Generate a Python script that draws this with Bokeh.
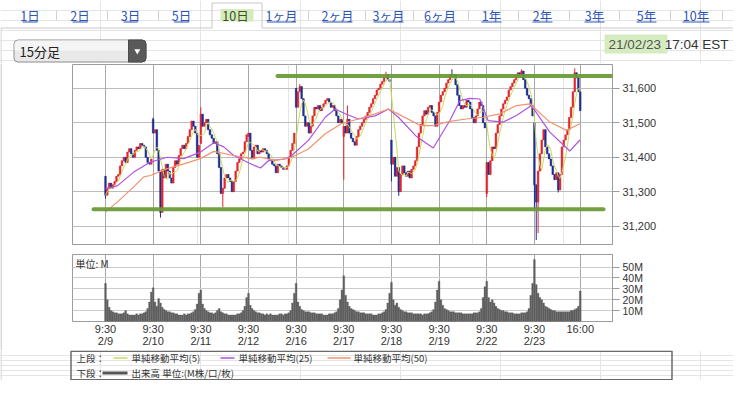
import pandas as pd
from bokeh.plotting import figure
from bokeh.layouts import column, row
from bokeh.models import (Range1d, FixedTicker, Grid, NumeralTickFormatter,
                          PrintfTickFormatter, Label, Arrow, ColumnDataSource)
from bokeh.core.properties import value
from bokeh.embed import file_html
from bokeh.resources import INLINE

# ---------------- data ----------------
days = ["2/9", "2/10", "2/11", "2/12", "2/16", "2/17", "2/18", "2/19", "2/22", "2/23"]
tick_labels = ["9:30\n2/9", "9:30\n2/10", "9:30\n2/11", "9:30\n2/12", "9:30\n2/16",
               "9:30\n2/17", "9:30\n2/18", "9:30\n2/19", "9:30\n2/22", "9:30\n2/23", "16:00"]
bars_per_day = 26

day_open = [31345, 31510, 31440, 31460, 31600, 31460, 31450, 31530, 31295, 31500]

close_0209 = [31290, 31310, 31325, 31310, 31320, 31330, 31345, 31350, 31375, 31390, 31400, 31385, 31415,
              31425, 31410, 31400, 31420, 31430, 31425, 31440, 31435, 31430, 31400, 31385, 31380, 31395]
close_0210 = [31470, 31480, 31420, 31360, 31240, 31365, 31340, 31380, 31360, 31340, 31325, 31370, 31390,
              31380, 31405, 31425, 31435, 31425, 31440, 31460, 31480, 31505, 31490, 31470, 31400, 31435]
close_0211 = [31525, 31490, 31500, 31510, 31480, 31465, 31455, 31440, 31445, 31410, 31370, 31295, 31310,
              31340, 31350, 31340, 31330, 31300, 31330, 31360, 31385, 31395, 31410, 31415, 31445, 31465]
close_0212 = [31470, 31420, 31395, 31430, 31435, 31410, 31420, 31415, 31425, 31420, 31410, 31395, 31390,
              31380, 31375, 31355, 31380, 31375, 31370, 31365, 31365, 31375, 31400, 31420, 31440, 31470]
close_0216 = [31545, 31590, 31605, 31570, 31520, 31490, 31500, 31470, 31490, 31520, 31545, 31540, 31550,
              31535, 31545, 31555, 31565, 31570, 31560, 31545, 31550, 31535, 31520, 31500, 31510, 31500]
close_0217 = [31490, 31470, 31510, 31470, 31455, 31445, 31435, 31460, 31480, 31490, 31500, 31510, 31520,
              31530, 31545, 31555, 31570, 31580, 31595, 31600, 31612, 31620, 31632, 31640, 31625, 31620]
close_0218 = [31380, 31400, 31345, 31370, 31300, 31350, 31375, 31355, 31345, 31360, 31340, 31365, 31375,
              31390, 31430, 31470, 31495, 31520, 31535, 31525, 31545, 31550, 31530, 31520, 31490, 31530]
close_0219 = [31560, 31580, 31590, 31600, 31615, 31625, 31640, 31635, 31640, 31610, 31580, 31550, 31540,
              31550, 31545, 31565, 31560, 31540, 31515, 31500, 31520, 31540, 31560, 31550, 31500, 31485]
close_0222 = [31385, 31350, 31390, 31430, 31425, 31470, 31495, 31520, 31540, 31555, 31565, 31575, 31595,
              31605, 31615, 31625, 31635, 31645, 31640, 31650, 31625, 31600, 31580, 31570, 31550, 31520]
close_0223 = [31320, 31270, 31360, 31410, 31450, 31480, 31430, 31410, 31395, 31375, 31350, 31335, 31355,
              31305, 31350, 31430, 31450, 31465, 31480, 31515, 31545, 31590, 31645, 31630, 31590, 31535]

# long wicks (bar number, extreme price)
wick_bar = [0, 26, 30, 52, 64, 106, 130, 132, 153, 156, 160, 189, 208, 227, 234, 235, 236, 247, 256]
wick_price = [31280, 31515, 31225, 31545, 31255, 31612, 31335, 31550, 31648, 31330, 31288, 31655,
              31285, 31655, 31250, 31160, 31180, 31298, 31658]

# volume, millions
vol_0209 = [35, 20, 13, 10, 9, 8, 8, 7, 7, 7, 8, 10, 7, 6, 6, 6, 6, 7, 6, 7, 7, 8, 9, 12, 18, 27]
vol_0210 = [31, 18, 14, 21, 17, 13, 11, 10, 9, 9, 8, 8, 7, 7, 6, 6, 6, 7, 6, 7, 7, 8, 9, 11, 16, 26]
vol_0211 = [29, 16, 12, 10, 9, 8, 8, 7, 8, 10, 12, 9, 8, 7, 7, 6, 6, 6, 6, 6, 7, 7, 8, 10, 14, 22]
vol_0212 = [26, 15, 12, 10, 9, 8, 8, 7, 7, 6, 7, 6, 7, 6, 6, 6, 6, 7, 7, 6, 7, 7, 8, 10, 17, 26]
vol_0216 = [35, 18, 14, 11, 10, 9, 9, 9, 8, 8, 8, 7, 7, 7, 7, 6, 6, 6, 7, 7, 7, 8, 9, 12, 20, 29]
vol_0217 = [42, 24, 18, 14, 12, 11, 10, 9, 9, 8, 8, 8, 7, 7, 7, 7, 6, 6, 6, 7, 7, 8, 9, 11, 17, 26]
vol_0218 = [36, 20, 15, 17, 13, 11, 10, 9, 9, 8, 8, 8, 7, 7, 7, 7, 7, 6, 7, 7, 7, 8, 9, 11, 18, 29]
vol_0219 = [37, 20, 15, 12, 11, 10, 9, 9, 9, 8, 8, 8, 8, 7, 7, 7, 7, 7, 7, 8, 8, 8, 9, 12, 22, 32]
vol_0222 = [37, 22, 18, 20, 17, 14, 12, 11, 10, 10, 9, 9, 8, 8, 8, 7, 7, 7, 7, 8, 8, 8, 9, 12, 24, 35]
vol_0223 = [57, 34, 26, 22, 20, 17, 14, 13, 12, 11, 10, 10, 9, 9, 9, 9, 9, 9, 9, 9, 10, 10, 11, 12, 14, 28]

# moving averages (bar number, value)
sma25_bar = [0, 6.4, 15.4, 24.5, 33.7, 42.7, 51.8, 59.1, 64.5, 70, 79.1, 84.6, 88.9, 98, 101.6, 110.7,
             119.9, 125.3, 130.8, 138, 147.1, 154.4, 159.8, 169.7, 178.8, 187.8, 193.3, 198.7, 204.2,
             208.8, 217, 224.2, 232.4, 242.4, 253.3, 258.8]
sma25_val = [31309, 31317, 31357, 31386, 31400, 31396, 31415, 31442, 31430, 31405, 31381, 31369, 31390,
             31395, 31405, 31449, 31516, 31540, 31526, 31511, 31520, 31540, 31516, 31460, 31427, 31506,
             31564, 31571, 31569, 31506, 31502, 31521, 31550, 31473, 31418, 31450]
sma50_bar = [0, 6.4, 15.4, 20.9, 24.5, 33.7, 42.7, 51.8, 59.1, 70, 79.1, 84.6, 92.6, 101.6, 110.7, 119.9,
             128.9, 138, 147.1, 154.4, 161.7, 171.8, 178.8, 187.8, 196.9, 206, 215.1, 224.2, 231.5,
             242.4, 251.5, 258.8]
sma50_val = [31241, 31270, 31314, 31343, 31347, 31367, 31381, 31396, 31417, 31405, 31396, 31400, 31390,
             31400, 31424, 31468, 31498, 31511, 31526, 31540, 31520, 31492, 31492, 31504, 31511, 31516,
             31526, 31550, 31555, 31502, 31478, 31497]

# hand drawn green level lines (price, from bar, to bar)
level_price = [31636, 31249]
level_from = [93.8, -6.5]
level_to = [286.4, 271.7]

price_ticks = [31200, 31300, 31400, 31500, 31600]
vol_ticks = [10, 20, 30, 40, 50]

tab_labels = ["1日", "2日", "3日", "5日", "10日", "1ヶ月", "2ヶ月", "3ヶ月", "6ヶ月",
              "1年", "2年", "3年", "5年", "10年"]
selected_tab = "10日"
interval_label = "15分足"
date_label = "21/02/23"
time_label = "17:04 EST"
legend_upper = "上段："
legend_lower = "下段："
legend_ma = ["単純移動平均(5)", "単純移動平均(25)", "単純移動平均(50)"]
legend_vol = "出来高 単位:(M株/口/枚)"
unit_label = "単位: M"

# ---------------- styles ----------------
UP, DOWN = "#e3262d", "#1f2f8f"
MA_COLORS = ["#c8da5a", "#b152e0", "#f2936f"]
GREEN = "#6c9b38"
BORDER = "#c8c8c8"
LATIN = "Liberation Sans"
CJK = "Noto Sans CJK JP"

# ---------------- build series ----------------
close_days = [close_0209, close_0210, close_0211, close_0212, close_0216,
              close_0217, close_0218, close_0219, close_0222, close_0223]
vol_days = [vol_0209, vol_0210, vol_0211, vol_0212, vol_0216,
            vol_0217, vol_0218, vol_0219, vol_0222, vol_0223]
idx, opens, closes, vols = [], [], [], []
for d, (cl, vo) in enumerate(zip(close_days, vol_days)):
    prev = day_open[d]
    for k, c in enumerate(cl):
        idx.append(d * bars_per_day + k)
        opens.append(prev)
        closes.append(c)
        vols.append(vo[k])
        prev = c
tops = [max(o, c) for o, c in zip(opens, closes)]
bots = [min(o, c) for o, c in zip(opens, closes)]
highs, lows = list(tops), list(bots)
for b, pr in zip(wick_bar, wick_price):
    highs[b] = max(highs[b], pr)
    lows[b] = min(lows[b], pr)
cols = [UP if c >= o else DOWN for o, c in zip(opens, closes)]
sma5 = pd.Series(closes).rolling(5, min_periods=1).mean().tolist()
src = ColumnDataSource(dict(x=idx, top=tops, bot=bots, h=highs, l=lows, col=cols, v=vols, sma5=sma5))

tick_pos = [d * bars_per_day for d in range(len(days))] + [len(days) * bars_per_day - 1]

# ---------------- layout geometry (page pixels) ----------------
W, H = 733, 380
STRIP = 2
FL, FR = 72, 612            # plot frame left/right
HEAD_H = 63
P_BOT_BORDER = 7
V_TOP_BORDER, V_H, V_BOT_BORDER = 3, 67, 29
P_H = 180
LEG_TOP = HEAD_H + 1 + P_H + P_BOT_BORDER + V_TOP_BORDER + V_H + V_BOT_BORDER
x_rng = Range1d(-18.0, 276.6)


def bare(width, height, xr, yr):
    f = figure(width=width, height=height, x_range=xr, y_range=yr, min_border=0,
               x_axis_location=None, y_axis_location=None, toolbar_location=None, output_backend="svg")
    f.outline_line_color = None
    f.background_fill_color = "white"
    f.border_fill_color = "white"
    return f


# ---------------- header ----------------
hd = bare(W, HEAD_H, Range1d(0, W), Range1d(HEAD_H, 0))
tab_x = [29.5, 79.5, 130, 181, 235, 281, 337, 388, 439.5, 491, 542, 594, 646, 695.5]
tab_w = [15, 15, 14, 15, 26, 29, 30, 30, 30, 20, 20, 20, 20, 27]
sep_x = [56, 107, 158, 308, 365, 413, 468, 518, 569, 619, 670, 722]
hd.segment(x0=sep_x, y0=10, x1=sep_x, y1=20, line_color="#d2d2d2", line_width=1)
hd.line(x=[0.5, 0.5, 211.5, 211.5, 261.5, 261.5, W], y=[HEAD_H, 27.5, 27.5, 2.5, 2.5, 27.5, 27.5],
        line_color=BORDER, line_width=1)
sel = tab_labels.index(selected_tab)
hd.quad(left=[tab_x[sel] - 15], right=[tab_x[sel] + 18], top=[8.5], bottom=[21],
        fill_color="#d3ecb9", line_color=None)
tcol = ["#3d4d2b" if t == selected_tab else "#2d55b5" for t in tab_labels]
hd.text(x=tab_x, y=[15] * len(tab_labels), text=tab_labels, text_color=tcol,
        text_font=value(CJK), text_font_size="12.5px", text_align="center", text_baseline="middle")
ul = [i for i, t in enumerate(tab_labels) if t != selected_tab]
hd.segment(x0=[tab_x[i] - tab_w[i] / 2 for i in ul], y0=21.5,
           x1=[tab_x[i] + tab_w[i] / 2 for i in ul], y1=21.5, line_color="#2d55b5", line_width=1)

# dropdown
hd.quad(left=[13.5], right=[145.5], top=[39.5], bottom=[61.5], fill_color="#e9e9e9",
        line_color="#8c8c8c", border_radius=4)
hd.quad(left=[14], right=[128], top=[40], bottom=[50], fill_color="#f5f5f5", line_color=None,
        border_radius=(4, 0, 0, 0))
hd.quad(left=[128], right=[145.5], top=[39.5], bottom=[61.5], fill_color="#5a5a5a",
        line_color="#4a4a4a", border_radius=(0, 4, 4, 0))
hd.scatter(x=[136.8], y=[50.5], marker="inverted_triangle", size=6, fill_color="white", line_color=None)
hd.text(x=[19], y=[50.5], text=[interval_label], text_color="#222", text_font=value(CJK),
        text_font_size="13px", text_align="left", text_baseline="middle")

# date
hd.quad(left=[604], right=[667], top=[34], bottom=[53], fill_color="#d4ecc0", line_color=None)
hd.text(x=[608], y=[44], text=[date_label], text_color="#555", text_font=value(LATIN),
        text_font_size="13.5px", text_align="left", text_baseline="middle")
hd.text(x=[728], y=[44], text=[time_label], text_color="#333", text_font=value(LATIN),
        text_font_size="13.5px", text_align="right", text_baseline="middle")


def style_right_axis(ax, size):
    ax.axis_line_color = "#9c9c9c"
    ax.major_tick_line_color = "#9c9c9c"
    ax.major_tick_out = 7
    ax.major_tick_in = 0
    ax.minor_tick_line_color = None
    ax.major_label_standoff = 3
    ax.major_label_text_font = LATIN
    ax.major_label_text_font_size = size
    ax.major_label_text_color = "#333"


# ---------------- price panel ----------------
pp = figure(frame_width=FR - FL, frame_height=P_H, min_border_left=FL - STRIP, min_border_right=W - FR,
            min_border_top=1, min_border_bottom=P_BOT_BORDER, x_range=x_rng, y_range=Range1d(31147, 31669),
            x_axis_location=None, y_axis_location="right", toolbar_location=None, output_backend="svg")
pp.outline_line_color = "#9c9c9c"
pp.border_fill_color = "white"
pp.yaxis.ticker = FixedTicker(ticks=price_ticks)
pp.yaxis.formatter = NumeralTickFormatter(format="0,0")
style_right_axis(pp.yaxis, "11px")
pp.ygrid.grid_line_color = "#bcbcbc"
pp.add_layout(Grid(dimension=0, ticker=FixedTicker(ticks=tick_pos), grid_line_color="#a8a8a8"))

pp.segment(x0="x", y0="l", x1="x", y1="h", line_color="col", line_width=1, source=src)
pp.vbar(x="x", width=0.9, top="top", bottom="bot", fill_color="col", line_color="col",
        line_width=0.5, source=src)
pp.line(x="x", y="sma5", line_color=MA_COLORS[0], line_width=1.0, source=src)
pp.line(x=sma25_bar, y=sma25_val, line_color=MA_COLORS[1], line_width=1.2)
pp.line(x=sma50_bar, y=sma50_val, line_color=MA_COLORS[2], line_width=1.2)
for lp, lf, lt in zip(level_price, level_from, level_to):
    pp.add_layout(Arrow(end=None, x_start=lf, y_start=lp, x_end=lt, y_end=lp,
                        line_color=GREEN, line_width=4, line_cap="round", line_alpha=0.95))

# ---------------- volume panel ----------------
pv = figure(frame_width=FR - FL, frame_height=V_H, min_border_left=FL - STRIP, min_border_right=W - FR,
            min_border_top=V_TOP_BORDER, min_border_bottom=V_BOT_BORDER, x_range=x_rng,
            y_range=Range1d(0, 61.5), x_axis_location="below", y_axis_location="right",
            toolbar_location=None, output_backend="svg")
pv.outline_line_color = "#9c9c9c"
pv.border_fill_color = "white"
pv.xaxis.ticker = FixedTicker(ticks=tick_pos)
pv.xaxis.major_label_overrides = {p: t for p, t in zip(tick_pos, tick_labels)}
pv.xaxis.axis_line_color = None
pv.xaxis.major_tick_line_color = None
pv.xaxis.minor_tick_line_color = None
pv.xaxis.major_tick_out = 0
pv.xaxis.major_tick_in = 0
pv.xaxis.major_label_standoff = 1
pv.xaxis.major_label_text_font = LATIN
pv.xaxis.major_label_text_font_size = "11px"
pv.xaxis.major_label_text_color = "#333"
pv.xaxis.major_label_text_line_height = 1.0
pv.xgrid.grid_line_color = "#a8a8a8"
pv.yaxis.ticker = FixedTicker(ticks=vol_ticks)
pv.yaxis.formatter = PrintfTickFormatter(format="%dM")
style_right_axis(pv.yaxis, "10.5px")
pv.ygrid.grid_line_color = "#cccccc"
pv.vbar(x="x", width=1.0, top="v", bottom=0, fill_color="#5e5e5e", line_color="#5e5e5e",
        line_width=0.3, source=src)
pv.add_layout(Label(x=-16.4, y=53.5, text=unit_label, text_font=CJK, text_font_size="10px",
                    text_color="#333", text_baseline="middle"))

# left panel border strip
MID_H = 1 + P_H + P_BOT_BORDER + V_TOP_BORDER + V_H + V_BOT_BORDER
st = bare(STRIP, MID_H, Range1d(0, STRIP), Range1d(0, 1))
st.segment(x0=[0.5], y0=[0], x1=[0.5], y1=[1], line_color=BORDER, line_width=1)

# ---------------- legend ----------------
LEG_H = H - LEG_TOP
lg = bare(W, LEG_H, Range1d(0, W), Range1d(H, LEG_TOP))
lg.segment(x0=[0.5], y0=[LEG_TOP], x1=[0.5], y1=[H], line_color=BORDER, line_width=1)
lg.quad(left=[70.5], right=[671.5], top=[LEG_TOP + 0.8], bottom=[H - 0.8], fill_color=None,
        line_color="#6a6a6a", line_width=1.5)
r1, r2 = LEG_TOP + 7.5, H - 7.5
lg.text(x=[76, 76], y=[r1, r2], text=[legend_upper, legend_lower], text_color="#333",
        text_font=value(CJK), text_font_size="9.5px", text_baseline="middle")
lg.segment(x0=[113, 220, 327], y0=r1, x1=[127, 234, 350], y1=r1, line_color=MA_COLORS, line_width=1.5)
lg.text(x=[131, 238, 353], y=[r1] * 3, text=legend_ma, text_color="#333",
        text_font=value(CJK), text_font_size="9.5px", text_baseline="middle")
lg.segment(x0=[102], y0=[r2], x1=[127], y1=[r2], line_color="#555", line_width=3)
lg.text(x=[131], y=[r2], text=[legend_vol], text_color="#333",
        text_font=value(CJK), text_font_size="9.5px", text_baseline="middle")

p = column(hd, row(st, column(pp, pv)), lg)
open("out.html", "w").write(file_html(p, INLINE))
